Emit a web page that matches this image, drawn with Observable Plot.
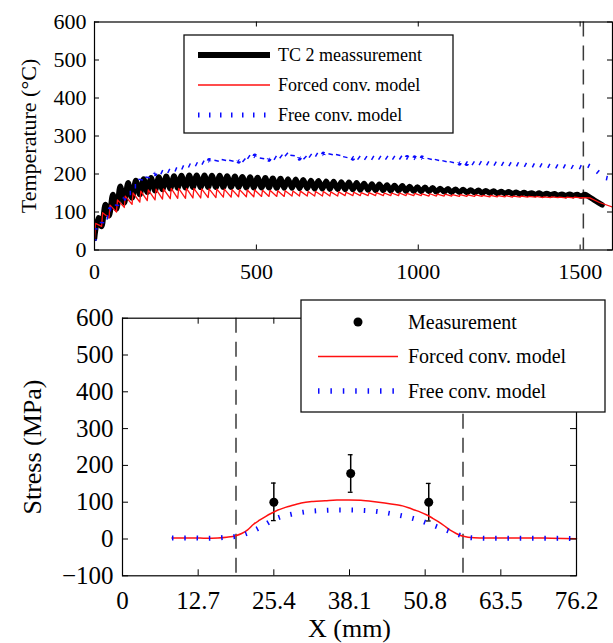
<!DOCTYPE html>
<html><head><meta charset="utf-8">
<script src="https://cdn.jsdelivr.net/npm/d3@7"></script>
<script src="https://cdn.jsdelivr.net/npm/@observablehq/plot@0.6"></script>
<style>
body{margin:0;background:#fff;}
#wrap{position:relative;width:613px;height:643px;overflow:hidden;font-family:"Liberation Serif","Times New Roman",serif;}
#wrap > svg{position:absolute;left:0;}
</style></head><body><div id="wrap"></div>
<script>
// ---------- Top chart data: temperature history (time in s, temperature in °C) ----------
const timeTicks = [0, 500, 1000, 1500];
const timeTickLabels = ["0", "500", "1000", "1500"];
const tempTicks = [0, 100, 200, 300, 400, 500, 600];
const tempTickLabels = ["0", "100", "200", "300", "400", "500", "600"];
const endOfPasses = 1510;

// start time of each heating cycle
const cycleT = [0,22,45,68,92,116,140,163,187,210,234,257,281,304,328,351,375,398,422,445,469,492,516,539,563,586,610,633,657,680,704,727,751,774,798,821,845,868,892,915,939,962,986,1009,1033,1056,1080,1103,1127,1150,1174,1197,1221,1244,1268,1291,1315,1338,1362,1385,1409,1432,1456,1479,1503];
// TC 2 measurement: trough / peak per cycle
const tcLow  = [30,62,90,108,124,137,146,152,156,159,161,163,164,165,165,165,165,165,165,165,164,164,164,164,163,163,163,162,162,161,161,160,160,159,159,158,158,157,157,156,156,155,155,154,154,153,153,152,152,151,151,150,150,149,149,148,147,147,146,145,145,144,143,143,142];
const tcHigh = [85,120,146,168,177,183,187,190,192,194,195,196,197,197,197,196,196,195,194,193,192,191,190,189,188,187,186,185,183,182,181,180,179,178,177,175,174,173,171,170,169,167,166,165,164,162,161,160,159,158,157,156,155,154,153,152,151,150,150,149,148,147,147,146,146];
const tcHalfCycle = 11.7;
const tcTailT = [1528, 1548, 1568];
const tcTailV = [140, 129, 119];
// Forced convection model
const forcedLow  = [25,62,85,100,112,120,126,130,132,134,135,136,136,137,137,138,138,139,139,140,140,140,141,141,141,141,142,142,142,142,142,142,142,143,143,143,143,143,143,143,143,143,143,143,142,142,142,142,141,141,141,141,140,140,140,139,139,139,139,138,138,138,137,137,137];
const forcedHigh = [70,98,118,132,142,150,155,158,160,161,162,162,162,162,161,161,160,160,159,159,158,158,157,157,156,156,155,155,154,154,154,153,153,152,152,151,151,151,150,150,150,149,149,148,148,147,147,146,146,145,145,144,144,143,143,142,142,141,141,140,140,139,139,139,138];
const forcedRise = 3;
const forcedTailT = [1530, 1560, 1600];
const forcedTailV = [137, 125, 113];
// Free convection model
const freeLow  = [25,62,85,105,135,150,168,185,200,204,206,210,214,218,220,223,226,230,232,233,231,236,234,238,240,240,239,241,238,240,242,243,244,242,241,240,238,238,237,236,235,234,234,233,232,231,230,229,228,227,226,226,225,224,223,222,222,221,220,220,219,218,218,217,217];
const freeHigh = [58,88,108,128,150,168,190,202,212,215,217,222,226,229,232,236,238,242,244,246,247,248,249,251,253,254,255,254,252,252,253,254,255,253,252,250,248,248,247,246,245,244,243,243,242,241,240,239,238,237,236,235,234,233,232,231,230,229,229,228,227,227,226,225,225];
const freeRise = 3;
const freeTailT = [1520, 1540, 1558, 1578, 1600];
const freeTailV = [224, 216, 203, 190, 186];

// ---------- Bottom chart data: stress profile (X in mm, stress in MPa) ----------
const xTicks = [0, 12.7, 25.4, 38.1, 50.8, 63.5, 76.2];
const xTickLabels = ["0", "12.7", "25.4", "38.1", "50.8", "63.5", "76.2"];
const stressTicks = [-100, 0, 100, 200, 300, 400, 500, 600];
const stressTickLabels = ["\u2212100", "0", "100", "200", "300", "400", "500", "600"];
const weldEdges = [19.05, 57.15];

const measX = [25.4, 38.3, 51.4];
const measY = [100, 178, 100];
const measLo = [50, 127, 49];
const measHi = [152, 229, 151];

const forcedX = [8.3,10,12,14,16,17.5,19,20,21,22,23,24,25,26,27,28,30,32,34,36,38,40,42,44,46,47,48,49,50,51,52,53,54,55,56,57,58,60,64,68,72,76.2];
const forcedY = [3,3,3,2,3,5,9,15,25,40,51,61,70,78,84,89,98,102,104,106,106,105,102,98,93,90,85,79,73,66,57,47,36,24,15,8,5,3,3,3,2,1];
const freeX = [8.3,10,12,14,16,17.5,19,20.5,22.3,24.2,25.7,28,30,32,34,36,38,40,42,44,46,48,50,52,54,56,57.5,59,62,66,70,76.2];
const freeY = [3,3,3,2,3,5,7,13,25,42,55,66,72,76,78,79,79,78,76,72,66,59,50,38,26,14,6,3,2,2,2,1];

// ---------- build tables ----------
const tcData = cycleT.flatMap((t, i) => [{t, v: tcLow[i]}, {t: t + tcHalfCycle, v: tcHigh[i]}])
  .concat(tcTailT.map((t, i) => ({t, v: tcTailV[i]})));
const forcedData = cycleT.flatMap((t, i) => [{t, v: forcedLow[i]}, {t: t + forcedRise, v: forcedHigh[i]}])
  .concat(forcedTailT.map((t, i) => ({t, v: forcedTailV[i]})));
const freeData = cycleT.flatMap((t, i) => [{t, v: freeLow[i]}, {t: t + freeRise, v: freeHigh[i]}])
  .concat(freeTailT.map((t, i) => ({t, v: freeTailV[i]})));
const meas = measX.map((x, i) => ({x, y: measY[i], lo: measLo[i], hi: measHi[i]}));
const forcedProfile = forcedX.map((x, i) => ({x, y: forcedY[i]}));
const freeProfile = freeX.map((x, i) => ({x, y: freeY[i]}));

const font = "'Liberation Serif','Times New Roman',serif";
const wrap = document.getElementById("wrap");

// ---------- top chart ----------
{
  const W = 613, H = 285, mt = 21.5, mb = 35.5, ml = 94, mr = 1;
  const fh = H - mt - mb, fw = W - ml - mr, tl = 5;
  const top = Plot.plot({
    width: W, height: H, marginTop: mt, marginBottom: mb, marginLeft: ml, marginRight: mr,
    x: {domain: [0, 1600]}, y: {domain: [0, 600]},
    style: {fontFamily: font, fontSize: "22px", color: "black", background: "white"},
    marks: [
      Plot.ruleX([endOfPasses], {stroke: "#3a3a3a", strokeWidth: 1.5, strokeDasharray: "15,9"}),
      Plot.line(tcData, {x: "t", y: "v", stroke: "black", strokeWidth: 5.5, curve: "catmull-rom", clip: true}),
      Plot.line(forcedData, {x: "t", y: "v", stroke: "#ff1010", strokeWidth: 1.3, clip: true}),
      Plot.line(freeData, {x: "t", y: "v", stroke: "#0a0aff", strokeWidth: 4.5, strokeDasharray: "1.5,9.5", strokeLinecap: "butt", clip: true}),
      Plot.tickX(timeTicks, {x: d => d, insetTop: fh - tl, stroke: "black"}),
      Plot.tickX(timeTicks, {x: d => d, insetBottom: fh - tl, stroke: "black"}),
      Plot.tickY(tempTicks, {y: d => d, insetRight: fw - tl, stroke: "black"}),
      Plot.tickY(tempTicks, {y: d => d, insetLeft: fw - tl, stroke: "black"}),
      Plot.frame({stroke: "black", strokeWidth: 1.2}),
      Plot.axisX(timeTicks, {tickSize: 0, tickPadding: 13, label: null, tickFormat: d => timeTickLabels[timeTicks.indexOf(d)]}),
      Plot.axisY(tempTicks, {tickSize: 0, tickPadding: 8, label: null, tickFormat: d => tempTickLabels[tempTicks.indexOf(d)]}),
      Plot.text(["Temperature (°C)"], {text: d => d, frameAnchor: "left", rotate: -90, dx: -66, textAnchor: "middle", lineAnchor: "middle", fontSize: 22})
    ]
  });
  top.style.top = "0px";
  wrap.appendChild(top);
}

// ---------- bottom chart ----------
{
  const W = 613, H = 358, mt = 32.7, mb = 67.7, ml = 122, mr = 37;
  const fh = H - mt - mb, fw = W - ml - mr, tl = 6;
  const bottom = Plot.plot({
    width: W, height: H, marginTop: mt, marginBottom: mb, marginLeft: ml, marginRight: mr,
    x: {domain: [0, 76.2]}, y: {domain: [-100, 600]},
    style: {fontFamily: font, fontSize: "25px", color: "black", background: "white"},
    marks: [
      Plot.ruleX(weldEdges, {stroke: "#3a3a3a", strokeWidth: 1.5, strokeDasharray: "15,9"}),
      Plot.ruleX(meas, {x: "x", y1: "lo", y2: "hi", stroke: "black", strokeWidth: 1.5}),
      Plot.ruleY(meas, {y: "hi", x1: d => d.x - 0.4, x2: d => d.x + 0.4, stroke: "black", strokeWidth: 1.3}),
      Plot.ruleY(meas, {y: "lo", x1: d => d.x - 0.4, x2: d => d.x + 0.4, stroke: "black", strokeWidth: 1.3}),
      Plot.dot(meas, {x: "x", y: "y", r: 4.5, fill: "black", stroke: "none"}),
      Plot.line(forcedProfile, {x: "x", y: "y", stroke: "#ff1010", strokeWidth: 1.5, curve: "monotone-x"}),
      Plot.line(freeProfile, {x: "x", y: "y", stroke: "#0a0aff", strokeWidth: 5, strokeDasharray: "1.5,10.8", strokeLinecap: "butt", curve: "monotone-x"}),
      Plot.tickX(xTicks, {x: d => d, insetTop: fh - tl, stroke: "black"}),
      Plot.tickX(xTicks, {x: d => d, insetBottom: fh - tl, stroke: "black"}),
      Plot.tickY(stressTicks, {y: d => d, insetRight: fw - tl, stroke: "black"}),
      Plot.tickY(stressTicks, {y: d => d, insetLeft: fw - tl, stroke: "black"}),
      Plot.frame({stroke: "black", strokeWidth: 1.2}),
      Plot.axisX(xTicks, {tickSize: 0, tickPadding: 15.5, label: null, tickFormat: d => xTickLabels[xTicks.indexOf(d)]}),
      Plot.axisY(stressTicks, {tickSize: 0, tickPadding: 9, label: null, tickFormat: d => stressTickLabels[stressTicks.indexOf(d)]}),
      Plot.text(["Stress (MPa)"], {text: d => d, frameAnchor: "left", rotate: -90, dx: -90, textAnchor: "middle", lineAnchor: "middle", fontSize: 26}),
      Plot.text(["X (mm)"], {text: d => d, frameAnchor: "bottom", dy: 53, textAnchor: "middle", lineAnchor: "middle", fontSize: 26})
    ]
  });
  bottom.style.top = "285px";
  wrap.appendChild(bottom);
}

// ---------- legends ----------
const lg = d3.select(wrap).append("svg").attr("width", 613).attr("height", 643)
  .style("top", "0px").style("font-family", font).style("pointer-events", "none");

function legend(box, items, opts) {
  const g = lg.append("g");
  g.append("rect").attr("x", box.x).attr("y", box.y).attr("width", box.w).attr("height", box.h)
    .attr("fill", "white").attr("stroke", "#111").attr("stroke-width", 1.3);
  items.forEach((it, i) => {
    const y = box.y + opts.first + i * opts.step;
    if (it.kind === "dot") {
      g.append("circle").attr("cx", (opts.x1 + opts.x2) / 2).attr("cy", y).attr("r", 4.5).attr("fill", "black");
    } else {
      g.append("line").attr("x1", opts.x1).attr("x2", opts.x2).attr("y1", y).attr("y2", y)
        .attr("stroke", it.color).attr("stroke-width", it.width)
        .attr("stroke-dasharray", it.dash || null).attr("stroke-linecap", "butt");
    }
    g.append("text").attr("x", opts.tx).attr("y", y).attr("dy", "0.34em")
      .attr("font-size", opts.fs).attr("fill", "black").text(it.label);
  });
}

legend({x: 184, y: 35, w: 269, h: 98}, [
  {label: "TC 2 meassurement", color: "black", width: 6},
  {label: "Forced conv. model", color: "#ff1010", width: 1.5},
  {label: "Free conv. model", color: "#0a0aff", width: 5, dash: "1.5,9.5"}
], {first: 20, step: 30, x1: 198, x2: 270, tx: 278, fs: 18});

legend({x: 301, y: 300, w: 304, h: 112}, [
  {label: "Measurement", kind: "dot"},
  {label: "Forced conv. model", color: "#ff1010", width: 1.7},
  {label: "Free conv. model", color: "#0a0aff", width: 5.5, dash: "1.5,10.9"}
], {first: 22, step: 34.5, x1: 318, x2: 398, tx: 408, fs: 20});
</script>
</body></html>
